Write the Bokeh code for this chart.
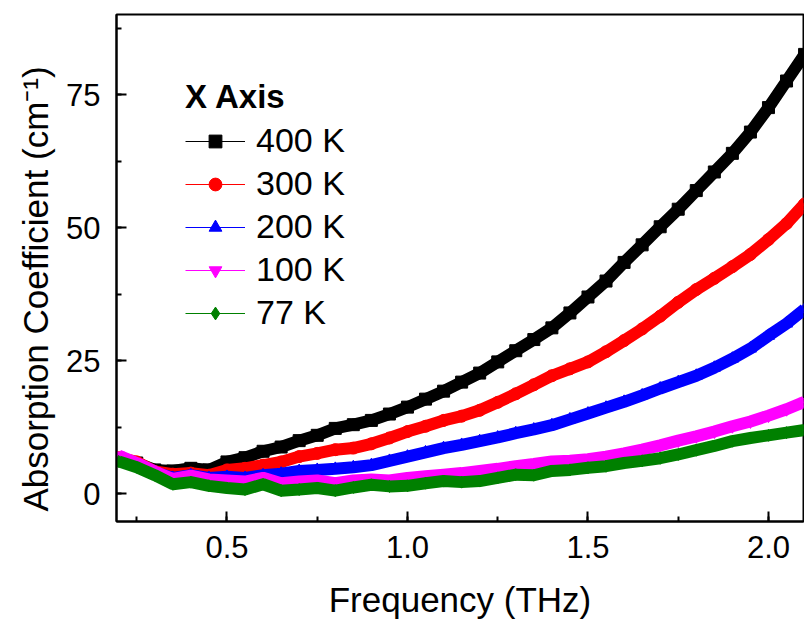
from bokeh.plotting import figure
from bokeh.models import Range1d, SingleIntervalTicker, Legend, LegendItem, Title, NumeralTickFormatter
from bokeh.embed import file_html
from bokeh.resources import INLINE

freq = [0.20, 0.25, 0.30, 0.35, 0.40, 0.45, 0.50, 0.55, 0.60, 0.65,
        0.70, 0.75, 0.80, 0.85, 0.90, 0.95, 1.00, 1.05, 1.10, 1.15,
        1.20, 1.25, 1.30, 1.35, 1.40, 1.45, 1.50, 1.55, 1.60, 1.65,
        1.70, 1.75, 1.80, 1.85, 1.90, 1.95, 2.00, 2.05, 2.10]

k400 = [6.5, 5.8, 4.5, 4.3, 4.8, 4.5, 6.0, 6.8, 8.0, 8.8,
        10.0, 11.0, 12.3, 13.0, 13.8, 15.0, 16.3, 17.8, 19.3, 21.0,
        22.7, 24.8, 26.9, 29.0, 31.2, 34.0, 37.0, 40.0, 43.5, 46.8,
        50.2, 53.5, 57.0, 60.5, 64.0, 68.0, 72.6, 77.6, 82.6]
k300 = [6.8, 6.0, 4.2, 3.7, 3.9, 3.5, 4.5, 4.8, 5.4, 6.0,
        7.0, 7.6, 8.3, 8.6, 9.4, 10.5, 11.7, 12.7, 13.8, 14.6,
        15.7, 17.2, 18.8, 20.5, 22.2, 23.5, 24.8, 26.7, 28.8, 31.0,
        33.4, 36.0, 38.4, 40.5, 42.7, 45.0, 47.8, 50.8, 54.5]
k200 = [6.5, 5.5, 4.0, 3.0, 3.5, 3.0, 3.2, 3.0, 3.5, 3.8,
        4.3, 4.5, 4.7, 5.0, 5.4, 6.2, 7.0, 7.8, 8.6, 9.2,
        9.9, 10.6, 11.4, 12.1, 12.9, 14.0, 15.1, 16.2, 17.3, 18.5,
        19.8, 21.0, 22.2, 23.7, 25.4, 27.3, 29.7, 32.0, 34.7]
k100 = [7.2, 5.8, 4.2, 2.8, 3.4, 2.7, 2.5, 2.3, 3.0, 2.0,
        2.3, 2.5, 2.0, 2.5, 2.7, 2.5, 3.0, 3.3, 3.6, 3.9,
        4.3, 4.7, 5.2, 5.6, 6.1, 6.2, 6.5, 7.0, 7.6, 8.3,
        9.1, 10.0, 10.8, 11.7, 12.7, 13.6, 14.7, 15.9, 17.3]
k77 = [6.1, 5.0, 3.5, 1.8, 2.2, 1.5, 1.1, 0.8, 1.8, 0.6,
       0.8, 1.1, 0.6, 1.2, 1.7, 1.4, 1.5, 2.0, 2.4, 2.2,
       2.4, 3.0, 3.6, 3.5, 4.3, 4.5, 4.9, 5.2, 5.8, 6.2,
       6.7, 7.4, 8.2, 9.0, 9.9, 10.5, 11.0, 11.5, 12.0]

names = ["400 K", "300 K", "200 K", "100 K", "77 K"]
series = [k400, k300, k200, k100, k77]
colors = ["#000000", "#FF0000", "#0000FF", "#FF00FF", "#008000"]
markers = ["square", "circle", "triangle", "inverted_triangle", "diamond"]

x_ticks_interval = 0.5
y_ticks_interval = 25

FONT = "Liberation Sans"

p = figure(width=804, height=621, output_backend="svg", toolbar_location=None,
           x_range=Range1d(0.194, 2.097), y_range=Range1d(-5.2, 90.1),
           min_border_left=116, min_border_right=1, min_border_top=14, min_border_bottom=97)
p.background_fill_color = "white"
p.border_fill_color = "white"
p.grid.visible = False
p.outline_line_color = "black"
p.outline_line_width = 2

items = []
for name, ys, c, m in zip(names, series, colors, markers):
    p.line(freq, ys, line_color=c, line_width=12)
    thin = p.line(freq, ys, line_color=c, line_width=1)
    sc = p.scatter(freq, ys, marker=m, size=12, fill_color=c, line_color=c)
    items.append(LegendItem(label=name, renderers=[thin, sc]))

for ax in (p.xaxis[0], p.yaxis[0]):
    ax.axis_line_width = 2
    ax.axis_line_color = "black"
    ax.major_tick_in = 10
    ax.major_tick_out = 0
    ax.minor_tick_in = 5
    ax.minor_tick_out = 0
    ax.major_tick_line_width = 2
    ax.minor_tick_line_width = 2
    ax.major_label_text_font = FONT
    ax.major_label_text_font_size = "31px"
    ax.major_label_text_color = "black"
    ax.axis_label_text_font = FONT
    ax.axis_label_text_font_size = "35px"
    ax.axis_label_text_font_style = "normal"
    ax.axis_label_text_color = "black"

p.xaxis.major_label_standoff = 14
p.yaxis.major_label_standoff = 16
p.xaxis.ticker = SingleIntervalTicker(interval=x_ticks_interval, num_minor_ticks=2)
p.yaxis.ticker = SingleIntervalTicker(interval=y_ticks_interval, num_minor_ticks=2)
p.xaxis.formatter = NumeralTickFormatter(format="0.0")
p.yaxis.formatter = NumeralTickFormatter(format="0")
p.xaxis.axis_label = "Frequency (THz)"
p.xaxis.axis_label_standoff = 19

ytitle = Title(text="Absorption Coefficient (cm\u207b\u00b9)", align="left", offset=10,
               text_font=FONT, text_font_size="35px", text_font_style="normal",
               text_color="black", standoff=18)
p.add_layout(ytitle, "left")

legend = Legend(items=items, location=(69, 189), title="X Axis",
                title_text_font=FONT, title_text_font_style="bold", title_text_font_size="33px",
                title_text_color="black",
                label_text_font=FONT, label_text_font_size="34px", label_text_color="black",
                glyph_width=60, glyph_height=32, label_standoff=11, spacing=4,
                padding=0, margin=0, border_line_color=None, background_fill_alpha=0,
                title_standoff=5)
p.add_layout(legend)

open("out.html", "w").write(file_html(p, INLINE))
